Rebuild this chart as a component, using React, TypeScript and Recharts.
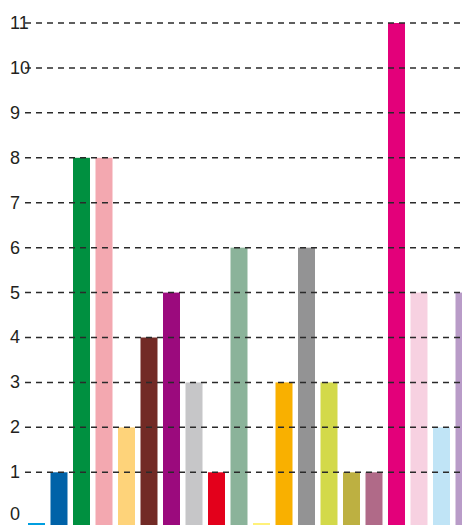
import React from "react";
import { BarChart, Bar, Cell, XAxis, YAxis, ReferenceLine } from "recharts";

const categories = [
  "c01", "c02", "c03", "c04", "c05", "c06", "c07", "c08", "c09", "c10",
  "c11", "c12", "c13", "c14", "c15", "c16", "c17", "c18", "c19", "c20",
];
const values = [0, 1, 8, 8, 2, 4, 5, 3, 1, 6, 0, 3, 6, 3, 1, 1, 11, 5, 2, 5];
const colors = [
  "#009ee0", "#0062a8", "#009040", "#f3a8b0", "#fed37a",
  "#722a25", "#9b0a7d", "#c6c6c8", "#e3001b", "#8bb39a",
  "#fff17a", "#f9b000", "#939394", "#d3d94a", "#bdb041",
  "#b06a88", "#e3007a", "#f7d1e1", "#c0e4f6", "#b99cc8",
];
const yTicks = [0, 1, 2, 3, 4, 5, 6, 7, 8, 9, 10, 11];

const data = categories.map((name, i) => ({ name, v: values[i] }));

const CHART_W = 475;
const CHART_H = 525;
const PLOT_BOTTOM = CHART_H;

// bars run down to the bottom of the plot; empty ones are a thin strip
function BarShape(props: any) {
  const { x, y, width, fill, payload, background } = props;
  const bottom = background ? background.y + background.height : PLOT_BOTTOM;
  if (!payload || !payload.v) {
    return <rect x={x} y={bottom - 2} width={width} height={2} fill={fill} />;
  }
  return <rect x={x} y={y} width={width} height={bottom - y} fill={fill} />;
}

function YTick(props: any) {
  const { y, payload } = props;
  return (
    <text
      x={10}
      y={y}
      dy={payload.value === 0 ? "0.18em" : "0.33em"}
      textAnchor="start"
      fontSize={18}
      fill="#231f20"
      fontFamily="'Liberation Sans', Arial, sans-serif"
    >
      {payload.value}
    </text>
  );
}

export default function App() {
  return (
    <div
      style={{
        position: "fixed",
        left: 0,
        top: 0,
        width: 462,
        height: 525,
        overflow: "hidden",
        background: "#fff",
      }}
    >
      <BarChart
        width={CHART_W}
        height={CHART_H}
        data={data}
        margin={{ top: 23, right: 0, bottom: 0, left: 0 }}
      >
        <XAxis dataKey="name" hide />
        <YAxis
          width={25}
          domain={[-0.173, 11]}
          ticks={yTicks}
          allowDataOverflow
          axisLine={false}
          tickLine={false}
          tick={<YTick />}
          interval={0}
        />
        <Bar dataKey="v" barSize={17} shape={<BarShape />} isAnimationActive={false}>
          {data.map((d, i) => (
            <Cell key={d.name} fill={colors[i]} />
          ))}
        </Bar>
        {yTicks
          .filter((t) => t > 0)
          .map((t) => (
            <ReferenceLine
              key={t}
              y={t}
              stroke="#2a2a2a"
              strokeWidth={1.5}
              strokeDasharray="6 5"
            />
          ))}
      </BarChart>
    </div>
  );
}
